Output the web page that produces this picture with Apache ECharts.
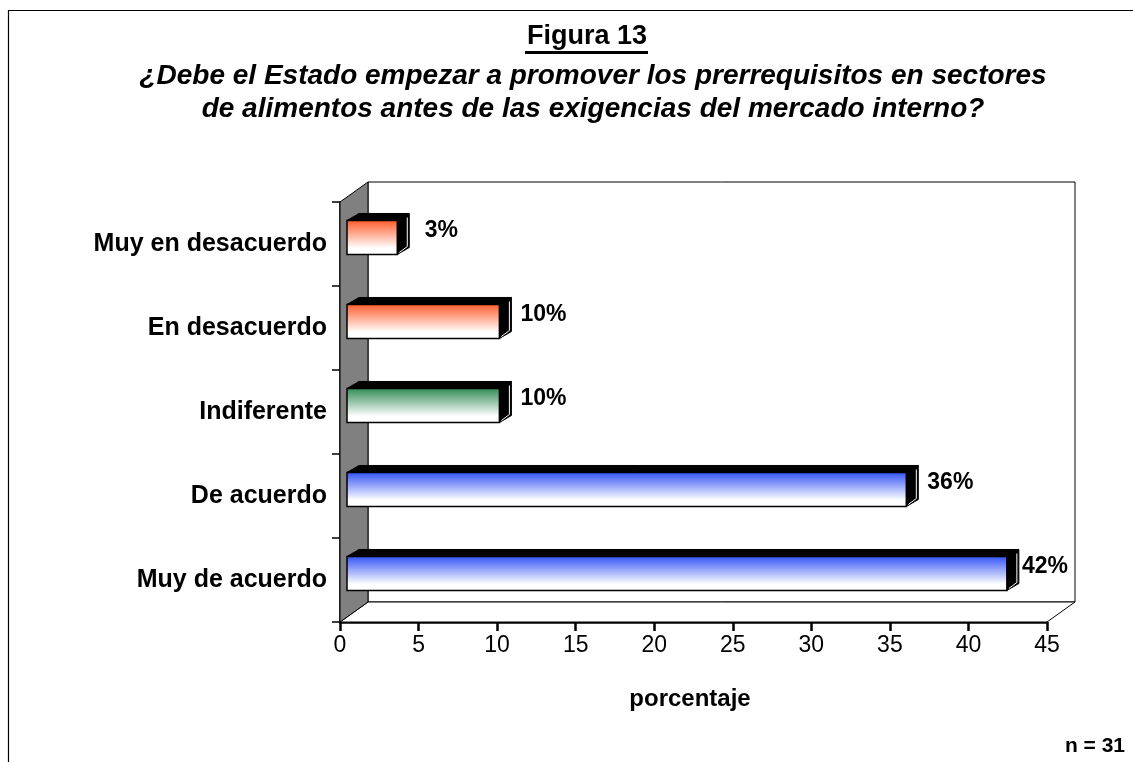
<!DOCTYPE html>
<html>
<head>
<meta charset="utf-8">
<script src="https://cdn.jsdelivr.net/npm/echarts@6/dist/echarts.min.js"></script>
<style>
  html, body { margin: 0; padding: 0; background: #fff; }
  #container { width: 1133px; height: 762px; }
</style>
</head>
<body>
<div id="container"></div>
<script>
var dom = document.getElementById("container");
var myChart = echarts.init(dom);

// datos (de arriba hacia abajo)
var categorias = ['Muy en desacuerdo', 'En desacuerdo', 'Indiferente', 'De acuerdo', 'Muy de acuerdo'];
var porcentajes = [3.2, 9.7, 9.7, 35.6, 42.0];
var xTicks = [0, 5, 10, 15, 20, 25, 30, 35, 40, 45];

var colores = ['#ff5a28', '#ff5a28', '#2f8a55', '#3050f5', '#3050f5'];
var FONT = 'Arial, "Liberation Sans", sans-serif';

var DX = 28, DY = -20;      // profundidad de las paredes
var BDX = 12, BDY = -7;     // profundidad de las barras

var barData = porcentajes.map(function (v, i) { return [v, i]; });

function renderWalls(params, api) {
    var c = params.coordSys;
    var l = c.x, t = c.y, r = c.x + c.width, b = c.y + c.height;
    return {
        type: 'group',
        children: [
            // pared del fondo
            {type: 'rect', shape: {x: l + DX, y: t + DY, width: c.width, height: c.height},
             style: {fill: '#fff', stroke: '#000', lineWidth: 1}},
            // piso
            {type: 'polygon', shape: {points: [[l, b], [l + DX, b + DY], [r + DX, b + DY], [r, b]]},
             style: {fill: '#fff', stroke: '#000', lineWidth: 1}},
            // pared lateral gris
            {type: 'polygon', shape: {points: [[l, t], [l + DX, t + DY], [l + DX, b + DY], [l, b]]},
             style: {fill: '#808080', stroke: '#000', lineWidth: 1}}
        ]
    };
}

function renderBar(params, api) {
    var i = api.value(1);
    var v = api.value(0);
    var p0 = api.coord([0, i]);
    var p1 = api.coord([v, i]);
    var bh = api.size([0, 1])[1];
    var x0 = p0[0] + 7, x1 = p1[0] + 7;
    var y0 = p0[1] - bh * 0.28, h = bh * 0.405, y1 = y0 + h;
    var col = colores[params.dataIndex];
    var c = params.coordSys;
    var lx = Math.min(x1 + 44, c.x + c.width - 2);
    return {
        type: 'group',
        children: [
            {type: 'polygon', shape: {points: [[x0, y0], [x0 + BDX, y0 + BDY], [x1 + BDX, y0 + BDY], [x1, y0]]},
             style: {fill: '#000', stroke: '#000', lineWidth: 1}},
            {type: 'polygon', shape: {points: [[x1, y0], [x1 + BDX, y0 + BDY], [x1 + BDX, y1 + BDY], [x1, y1]]},
             style: {fill: '#000', stroke: '#000', lineWidth: 1}},
            {type: 'polyline', shape: {points: [[x1 + 2, y1 - 2], [x1 + BDX - 2, y1 + BDY - 1], [x1 + BDX - 2, y0 + BDY + 4]]},
             style: {stroke: '#fff', lineWidth: 1, fill: null}},
            {type: 'rect', shape: {x: x0, y: y0, width: x1 - x0, height: h},
             style: {
                 fill: new echarts.graphic.LinearGradient(0, 0, 0, 1, [
                     {offset: 0, color: col},
                     {offset: 0.8, color: '#ffffff'},
                     {offset: 1, color: '#ffffff'}
                 ]),
                 stroke: '#000', lineWidth: 1.5
             }},
            {type: 'text', style: {
                text: Math.round(v) + '%', x: lx, y: y0 + 10.5,
                align: 'center', verticalAlign: 'middle',
                font: 'bold 23px ' + FONT, fill: '#000'
            }}
        ]
    };
}

option = {
    animation: false,
    backgroundColor: '#fff',
    grid: {left: 340, right: 86, top: 202, bottom: 140},
    xAxis: {
        type: 'value',
        min: 0,
        max: 45,
        interval: 5,
        splitLine: {show: false},
        axisLine: {show: true, lineStyle: {color: '#000', width: 2.5}},
        axisTick: {show: true, length: 9, lineStyle: {color: '#000', width: 2.5}},
        axisLabel: {
            color: '#000', fontSize: 23, fontFamily: FONT, margin: 12,
            formatter: function (val) { return xTicks.indexOf(val) >= 0 ? String(val) : ''; }
        }
    },
    yAxis: {
        type: 'category',
        inverse: true,
        data: categorias,
        axisLine: {show: true, lineStyle: {color: '#000', width: 1.5}},
        axisTick: {show: true, length: 8, lineStyle: {color: '#000', width: 1.5}},
        axisLabel: {color: '#000', fontSize: 25, fontWeight: 'bold', fontFamily: FONT, margin: 13}
    },
    graphic: [
        {type: 'rect', z: -10, silent: true,
         shape: {x: 8.5, y: 10.5, width: 1300, height: 900},
         style: {fill: null, stroke: '#000', lineWidth: 1.2}},
        {type: 'text', x: 587, y: 37, style: {
            text: 'Figura 13', align: 'center', verticalAlign: 'middle',
            font: 'bold 27px ' + FONT, fill: '#000'}},
        {type: 'rect', shape: {x: 525, y: 51, width: 123, height: 3}, style: {fill: '#000'}},
        {type: 'text', x: 593, y: 76, style: {
            text: '¿Debe el Estado empezar a promover los prerrequisitos en sectores',
            align: 'center', verticalAlign: 'middle',
            font: 'italic bold 28px ' + FONT, fill: '#000'}},
        {type: 'text', x: 593, y: 109, style: {
            text: 'de alimentos antes de las exigencias del mercado interno?',
            align: 'center', verticalAlign: 'middle',
            font: 'italic bold 28px ' + FONT, fill: '#000'}},
        {type: 'text', x: 690, y: 699, style: {
            text: 'porcentaje', align: 'center', verticalAlign: 'middle',
            font: 'bold 24px ' + FONT, fill: '#000'}},
        {type: 'text', x: 1125, y: 746, style: {
            text: 'n = 31', align: 'right', verticalAlign: 'middle',
            font: 'bold 21px ' + FONT, fill: '#000'}}
    ],
    series: [
        {
            type: 'custom',
            renderItem: renderWalls,
            data: [[0, 0]],
            encode: {x: 0, y: 1},
            z: 1,
            silent: true
        },
        {
            type: 'custom',
            renderItem: renderBar,
            data: barData,
            encode: {x: 0, y: 1},
            z: 2
        }
    ]
};

if (option && typeof option === "object") {
    myChart.setOption(option, true);
}
</script>
</body>
</html>
